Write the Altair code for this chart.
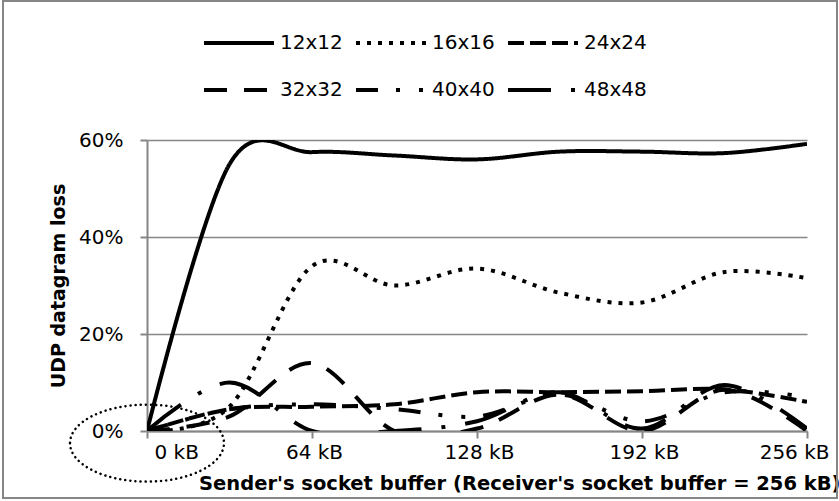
import altair as alt
import pandas as pd

# ---- data ----
buffer_kb = [0, 32, 64, 96, 128, 160, 192, 224, 256]
series_names = ["12x12", "16x16", "24x24", "32x32", "40x40", "48x48"]
loss_12 = [0, 55.0, 57.5, 56.8, 56.0, 57.6, 57.6, 57.3, 59.2]
loss_16 = [0, 5.0, 34.0, 30.0, 33.5, 28.5, 26.5, 32.8, 31.5]
loss_24 = [0, 4.5, 5.0, 5.5, 8.0, 8.0, 8.2, 8.6, 6.0]
loss_32 = [0, 3.0, 14.0, 0.0, 0.5, 7.5, 0.0, 8.5, 0.0]
loss_40 = [0, 4.5, 5.5, 4.5, 3.0, 7.5, 2.0, 8.0, 7.0]
loss_48 = [0, 10.0, 0.0, 0.0, 2.0, 8.0, 0.5, 9.5, 0.5]
x_tick_values = [0, 64, 128, 192, 256]
y_tick_values = [0, 0.2, 0.4, 0.6]

# ---- styles ----
dash_styles = [[1, 0], [4, 7], [16, 6], [23, 17], [22, 18, 4, 19, 4, 18], [43, 20, 4, 20]]
FONT = "DejaVu Sans"
GRAY = "#868686"

all_series = [loss_12, loss_16, loss_24, loss_32, loss_40, loss_48]
rows = []
for name, vals in zip(series_names, all_series):
    for kb, v in zip(buffer_kb, vals):
        rows.append({"kb": kb, "loss": v / 100.0, "series": name})
df = pd.DataFrame(rows)

x_enc = alt.X(
    "kb:Q",
    scale=alt.Scale(domain=[0, 256], nice=False),
    axis=alt.Axis(
        values=x_tick_values,
        labelExpr="datum.value + ' kB'",
        title="Sender's socket buffer (Receiver's socket buffer = 256 kB)",
        grid=False,
        labelFlush=False,
        labelAlign={"condition": [{"test": "datum.value == 0", "value": "left"},
                                  {"test": "datum.value == 256", "value": "right"}],
                    "value": "center"},
        labelOffset={"condition": [{"test": "datum.value == 0", "value": 7},
                                   {"test": "datum.value == 256", "value": 22}],
                     "value": 2},
        labelPadding=4,
        titleX=693,
        titleY=52,
        titleAlign="right",
        titleBaseline="middle",
        titleFontSize=19.5,
    ),
)
y_enc = alt.Y(
    "loss:Q",
    scale=alt.Scale(domain=[0, 0.6], nice=False),
    axis=alt.Axis(
        values=y_tick_values,
        format=".0%",
        title="UDP datagram loss",
        grid=True,
        labelPadding=17,
        titleX=-89,
        titleY=145.5,
        titleAlign="center",
        titleBaseline="middle",
        titleAngle=270,
    ),
)

lines = alt.Chart(df).mark_line(
    interpolate="cardinal", strokeWidth=4, color="black", clip=True
).encode(
    x=x_enc,
    y=y_enc,
    strokeDash=alt.StrokeDash(
        "series:N",
        scale=alt.Scale(domain=series_names, range=dash_styles),
        legend=alt.Legend(
            title=None,
            orient="none",
            legendX=55,
            legendY=-134,
            columns=3,
            direction="horizontal",
            symbolType="stroke",
            symbolSize=4900,
            symbolStrokeWidth=4,
            symbolStrokeColor="black",
            labelFontSize=20,
            labelFont=FONT,
            labelColor="black",
            labelOffset=4,
            columnPadding=5,
            rowPadding=-21,
            padding=0,
        ),
    ),
    order=alt.Order("kb:Q"),
)

# annotation: dotted ellipse around the origin
ellipse_df = pd.DataFrame({"kb": [0], "loss": [-0.025]})
ellipse = alt.Chart(ellipse_df).mark_point(
    shape="M -1 0 A 1 0.5 0 1 0 1 0 A 1 0.5 0 1 0 -1 0 Z",
    size=23716,
    filled=False,
    stroke="black",
    strokeWidth=2.5,
    strokeDash=[0.1, 5],
    strokeCap="round",
    opacity=1,
    clip=False,
).encode(x="kb:Q", y="loss:Q")

# chart-area border
border = alt.Chart(pd.DataFrame({"a": [0]})).mark_rect(
    fill="transparent", stroke=GRAY, strokeWidth=2
).encode(
    x=alt.value(-144), x2=alt.value(690), y=alt.value(-139), y2=alt.value(358)
)

chart = alt.layer(border, lines, ellipse).properties(
    width=660,
    height=291,
    padding={"left": 147, "top": 140, "right": 32, "bottom": 70},
    autosize=alt.AutoSizeParams(type="none"),
    background="white",
).configure_view(
    stroke="transparent"
).configure_axis(
    labelFont=FONT,
    labelFontSize=20,
    labelColor="black",
    titleFont=FONT,
    titleFontSize=19,
    titleFontWeight="bold",
    titleColor="black",
    domainColor=GRAY,
    domainWidth=2,
    tickColor=GRAY,
    tickWidth=2,
    tickSize=7,
    gridColor=GRAY,
    gridWidth=1.5,
)

chart.save("out.html", embed_options={"renderer": "svg", "actions": False})
